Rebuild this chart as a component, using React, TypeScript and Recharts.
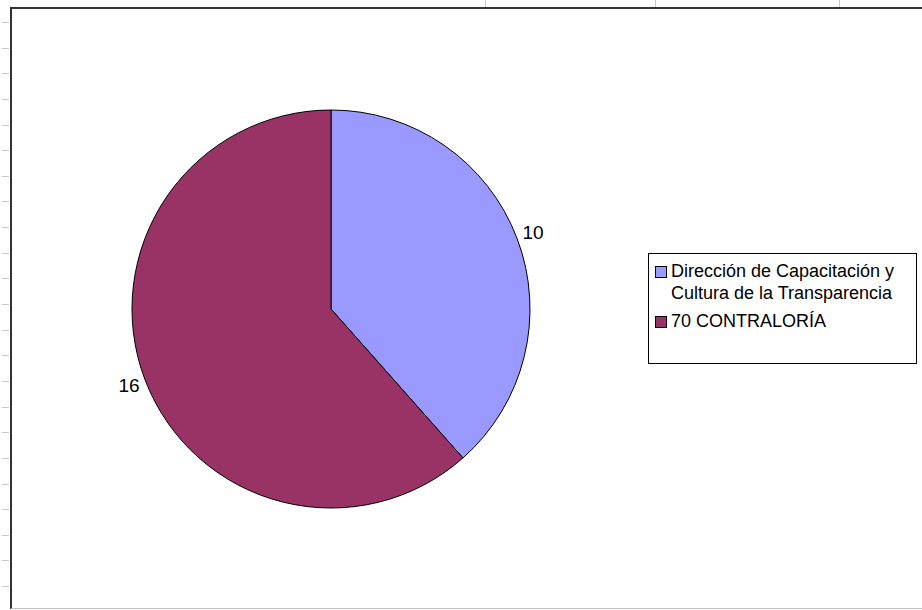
import React from "react";
import { PieChart, Pie, Cell, Legend } from "recharts";

const categories = [
  "Dirección de Capacitación y Cultura de la Transparencia",
  "70 CONTRALORÍA",
];
const legendLines = [
  ["Dirección de Capacitación y", "Cultura de la Transparencia"],
  ["70 CONTRALORÍA"],
];
const values = [10, 16];
const colors = ["#9999FF", "#993366"];

const data = categories.map((name, i) => ({ name, value: values[i] }));

const RAD = Math.PI / 180;
const FONT = "'Liberation Sans', Arial, sans-serif";

const renderLabel = (props: any) => {
  const { cx, cy, midAngle, outerRadius, value } = props;
  const r = outerRadius + 17;
  const x = cx + r * Math.cos(-midAngle * RAD);
  const y = cy + r * Math.sin(-midAngle * RAD);
  return (
    <text
      x={x}
      y={y}
      textAnchor="middle"
      dominantBaseline="central"
      fill="#000"
      fontSize={19}
      fontFamily={FONT}
    >
      {value}
    </text>
  );
};

const LegendBox = () => (
  <div
    style={{
      width: 269,
      height: 111,
      border: "1px solid #000",
      background: "#fff",
      boxSizing: "border-box",
      fontFamily: FONT,
      fontSize: 18,
      color: "#000",
      paddingTop: 6,
      paddingLeft: 6,
    }}
  >
    {legendLines.map((lines, i) => (
      <div key={i} style={{ display: "flex", alignItems: "flex-start", marginBottom: 6 }}>
        <div
          style={{
            width: 10,
            height: 10,
            background: colors[i],
            border: "1px solid #000",
            marginTop: 6,
            marginRight: 4,
            flexShrink: 0,
          }}
        />
        <div style={{ lineHeight: "22px" }}>
          {lines.map((l, j) => (
            <div key={j} style={{ whiteSpace: "nowrap" }}>{l}</div>
          ))}
        </div>
      </div>
    ))}
  </div>
);

export default function App() {
  const ticks: number[] = [];
  for (let i = 0; i < 23; i++) ticks.push(22 + i * 25.64);
  const cols = [485, 655, 839];
  return (
    <div style={{ position: "absolute", left: 0, top: 0, width: 922, height: 610, background: "#fff", overflow: "hidden" }}>
      {ticks.map((y, i) => (
        <div key={i} style={{ position: "absolute", left: 2, top: Math.round(y), width: 7, height: 1, background: "#c8c8c8" }} />
      ))}
      {cols.map((x, i) => (
        <div key={i} style={{ position: "absolute", left: x, top: 0, width: 1, height: 7, background: "#c8c8c8" }} />
      ))}
      <div
        style={{
          position: "absolute",
          left: 10,
          top: 7,
          width: 930,
          height: 602,
          borderTop: "2px solid #333",
          borderLeft: "2px solid #333",
          borderBottom: "1px solid #c0c0c0",
          boxSizing: "border-box",
        }}
      />
      <div style={{ position: "absolute", left: 0, top: 0 }}>
        <PieChart width={922} height={610}>
          <Pie
            data={data}
            dataKey="value"
            nameKey="name"
            cx={326}
            cy={304}
            outerRadius={199}
            startAngle={90}
            endAngle={-270}
            stroke="#000"
            strokeWidth={1}
            label={renderLabel}
            labelLine={false}
            isAnimationActive={false}
          >
            {data.map((d, i) => (
              <Cell key={d.name} fill={colors[i]} />
            ))}
          </Pie>
          <Legend
            content={() => <LegendBox />}
            wrapperStyle={{ position: "absolute", left: 648, top: 253, width: 269 }}
          />
        </PieChart>
      </div>
    </div>
  );
}
